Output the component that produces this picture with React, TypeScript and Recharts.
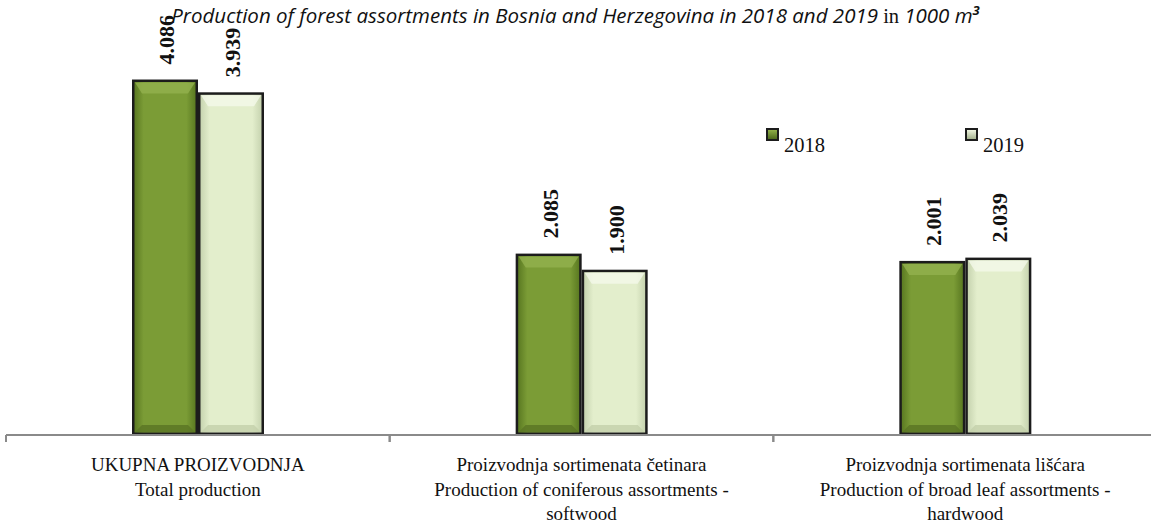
import { BarChart, Bar, XAxis, YAxis, LabelList } from "recharts";

const categories = ["UKUPNA PROIZVODNJA", "Proizvodnja sortimenata četinara", "Proizvodnja sortimenata lišćara"];
const categoryLines = [
  ["UKUPNA PROIZVODNJA", "Total production"],
  ["Proizvodnja sortimenata četinara", "Production of coniferous assortments -", "softwood"],
  ["Proizvodnja sortimenata lišćara", "Production of broad leaf assortments -", "hardwood"],
];
const values2018 = [4.086, 2.085, 2.001];
const values2019 = [3.939, 1.9, 2.039];
const seriesNames = ["2018", "2019"];

const data = categories.map((name, i) => ({
  name,
  y2018: values2018[i],
  y2019: values2019[i],
}));

const fmt = (v: number) => v.toFixed(3);

const BevelBar = (props: any) => {
  const { x, y, width, height, light } = props;
  if (!height || height <= 0) return null;
  const id = light ? "url(#g2019)" : "url(#g2018)";
  const hi = light ? "#f4f9ea" : "#94b24f";
  return (
    <g>
      <rect x={x} y={y} width={width} height={height} fill="#1c1c1c" />
      <rect x={x + 2.5} y={y + 2.5} width={width - 5} height={height - 5} fill={id} />
      <path
        d={`M${x + 3},${y + 3} L${x + width - 3},${y + 3} L${x + width - 10},${y + 14} L${x + 10},${y + 14} Z`}
        fill={hi}
        opacity={0.8}
      />
      <path
        d={`M${x + 3},${y + height - 3} L${x + width - 3},${y + height - 3} L${x + width - 10},${y + height - 10} L${x + 10},${y + height - 10} Z`}
        fill={light ? "#c3d0aa" : "#5a7424"}
        opacity={0.8}
      />
    </g>
  );
};

const ValueLabel = (props: any) => {
  const { x, y, width, value } = props;
  const cx = x + width / 2 + 9;
  const cy = y - 15;
  return (
    <text
      x={cx}
      y={cy}
      transform={`rotate(-90 ${cx} ${cy})`}
      textAnchor="start"
      fontFamily="'Liberation Serif', serif"
      fontWeight="bold"
      fontSize={22}
      fill="#111"
    >
      {fmt(value)}
    </text>
  );
};

const CategoryTick = (props: any) => {
  const { x, y, payload, index } = props;
  const half = payload && payload.offset ? payload.offset : 191.5;
  const lines = categoryLines[index] || [payload.value];
  return (
    <g>
      <line x1={x - half} y1={y} x2={x - half} y2={y + 7} stroke="#8a8a8a" strokeWidth={2} />
      <line x1={x + half} y1={y} x2={x + half} y2={y + 7} stroke="#8a8a8a" strokeWidth={2} />
      {lines.map((l: string, i: number) => (
        <text
          key={i}
          x={x}
          y={y + 36 + i * 24.5}
          textAnchor="middle"
          fontFamily="'Liberation Serif', serif"
          fontSize={19}
          fill="#111"
        >
          {l}
        </text>
      ))}
    </g>
  );
};

const LegendBox = ({ light }: { light?: boolean }) => (
  <svg width={13} height={13} style={{ display: "block" }}>
    <defs>
      <linearGradient id={light ? "lg2019" : "lg2018"} x1="0" y1="0" x2="0" y2="1">
        <stop offset="0" stopColor={light ? "#eef4df" : "#8fae48"} />
        <stop offset="1" stopColor={light ? "#a6b38f" : "#4e6a1c"} />
      </linearGradient>
    </defs>
    <rect x={0} y={0} width={13} height={13} fill="#1c1c1c" />
    <rect x={2} y={2} width={9} height={9} fill={light ? "url(#lg2019)" : "url(#lg2018)"} />
  </svg>
);

const CustomLegend = () => {
  const lefts = [766, 965];
  return (
    <div style={{ position: "absolute", left: 0, top: 128, width: 1151, height: 30 }}>
      {seriesNames.map((label, i) => (
        <div key={label} style={{ position: "absolute", left: lefts[i], top: 0, display: "flex", alignItems: "flex-start" }}>
          <LegendBox light={i === 1} />
          <span
            style={{
              fontFamily: "'Liberation Serif', serif",
              fontSize: 20.5,
              color: "#111",
              marginLeft: 5,
              marginTop: 6,
              lineHeight: "22px",
            }}
          >
            {label}
          </span>
        </div>
      ))}
    </div>
  );
};

const App = () => {
  return (
    <div style={{ position: "absolute", left: 0, top: 0, width: 1151, height: 524, overflow: "hidden", background: "#fff" }}>
      <BarChart
        width={1157}
        height={524}
        data={data}
        margin={{ top: 0, right: 0, bottom: 0, left: 6 }}
        barGap={0}
        barSize={66}
      >
        <defs>
          <linearGradient id="g2018" x1="0" y1="0" x2="1" y2="0">
            <stop offset="0" stopColor="#5b7a22" />
            <stop offset="0.15" stopColor="#7b9c36" />
            <stop offset="0.85" stopColor="#7b9c36" />
            <stop offset="1" stopColor="#5b7a22" />
          </linearGradient>
          <linearGradient id="g2019" x1="0" y1="0" x2="1" y2="0">
            <stop offset="0" stopColor="#c7d4b0" />
            <stop offset="0.15" stopColor="#e3eecc" />
            <stop offset="0.85" stopColor="#e3eecc" />
            <stop offset="1" stopColor="#c7d4b0" />
          </linearGradient>
        </defs>
        <XAxis
          dataKey="name"
          height={89}
          interval={0}
          tickLine={false}
          tickSize={0}
          tickMargin={0}
          axisLine={{ stroke: "#8a8a8a", strokeWidth: 2 }}
          tick={<CategoryTick />}
        />
        <YAxis hide domain={[0, 5]} />
        <Bar dataKey="y2018" name={seriesNames[0]} fill="#7b9c36" shape={<BevelBar />} isAnimationActive={false}>
          <LabelList dataKey="y2018" content={<ValueLabel />} />
        </Bar>
        <Bar dataKey="y2019" name={seriesNames[1]} fill="#e3eecc" shape={<BevelBar light />} isAnimationActive={false}>
          <LabelList dataKey="y2019" content={<ValueLabel />} />
        </Bar>
      </BarChart>
      <CustomLegend />
      <div
        style={{
          position: "absolute",
          top: -2,
          left: 0,
          width: 1151,
          textAlign: "center",
          fontSize: 20.5,
          lineHeight: "24px",
          color: "#111",
          whiteSpace: "nowrap",
        }}
      >
        <span style={{ fontFamily: "'Open Sans', sans-serif", fontStyle: "italic" }}>
          Production of forest assortments in Bosnia and Herzegovina in 2018 and 2019
        </span>
        <span style={{ fontFamily: "'Liberation Serif', serif" }}> in </span>
        <span style={{ fontFamily: "'Open Sans', sans-serif", fontStyle: "italic" }}>
          1000 m<sup style={{ fontSize: 13, fontWeight: "bold" }}>3</sup>
        </span>
      </div>
    </div>
  );
};

export default App;
